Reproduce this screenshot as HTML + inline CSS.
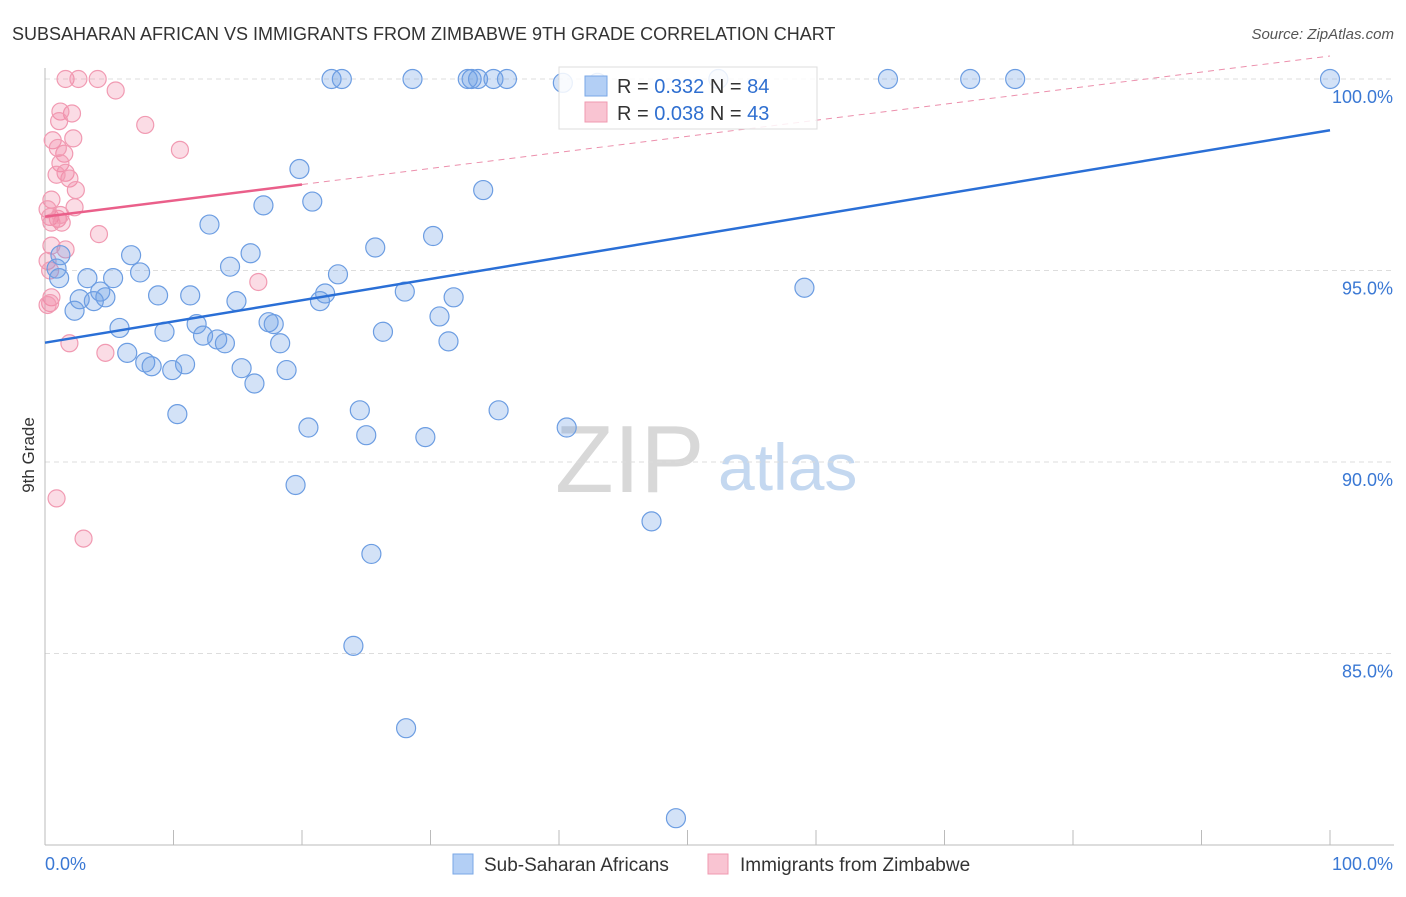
<!DOCTYPE html>
<html><head><meta charset="utf-8"><style>
body{margin:0;background:#fff;font-family:"Liberation Sans",sans-serif}
svg text{font-family:"Liberation Sans",sans-serif}
</style></head><body>
<svg id="chart" width="1406" height="892">
<text x="12" y="40" font-size="18" fill="#333">SUBSAHARAN AFRICAN VS IMMIGRANTS FROM ZIMBABWE 9TH GRADE CORRELATION CHART</text>
<text x="1394" y="39" font-size="15" fill="#555" text-anchor="end" font-style="italic">Source: ZipAtlas.com</text>
<text x="555" y="492" font-size="96" fill="#d8d8d8" font-family="Liberation Serif">ZIP</text>
<text x="718" y="490" font-size="66" fill="#c4d8f0">atlas</text>
<text transform="translate(34,455) rotate(-90)" font-size="17" fill="#333" text-anchor="middle">9th Grade</text>
<g id="grid"></g><g id="axes"></g><g id="pts"></g><g id="lines"></g>
<g>
<rect x="559" y="67" width="258" height="62" fill="#fff" fill-opacity="0.85" stroke="#ddd"/>
<rect x="585" y="76" width="22" height="20" fill="#b3cff5" stroke="#7aa7e6"/>
<text x="617" y="93" font-size="20" fill="#333">R = <tspan fill="#2f6fd0">0.332</tspan>   N = <tspan fill="#2f6fd0">84</tspan></text>
<rect x="585" y="102" width="22" height="20" fill="#f9c4d2" stroke="#f09ab0"/>
<text x="617" y="120" font-size="20" fill="#333">R = <tspan fill="#2f6fd0">0.038</tspan>   N = <tspan fill="#2f6fd0">43</tspan></text>
</g>
<g>
<rect x="453" y="854" width="20" height="20" fill="#b3cff5" stroke="#7aa7e6"/>
<text x="484" y="871" font-size="19" fill="#333">Sub-Saharan Africans</text>
<rect x="708" y="854" width="20" height="20" fill="#f9c4d2" stroke="#f09ab0"/>
<text x="740" y="871" font-size="19" fill="#333">Immigrants from Zimbabwe</text>
</g>
</svg>
<script>
const yTicks=[100,95,90,85];
const yTickLabels=["100.0%","95.0%","90.0%","85.0%"];
const blueX=[22.3,23.1,28.6,32.9,33.2,33.7,34.9,35.95,40.3,43.0,52.4,65.6,72.0,75.5,100,19.8,20.8,34.1,17.0,12.8,30.2,25.7,6.7,16.0,1.2,0.9,7.4,14.4,22.8,3.3,5.3,1.1,4.3,59.1,8.8,11.3,28.0,21.8,4.7,2.7,3.8,14.9,21.4,31.8,2.3,30.7,5.8,9.3,11.8,17.4,17.8,26.3,12.3,13.4,14.0,18.3,31.4,6.4,7.8,8.3,10.9,9.9,15.3,18.8,16.3,10.3,24.5,35.3,20.5,25.0,29.6,40.6,19.5,47.2,25.4,24.0,28.1,49.1];
const blueY=[100,100,100,100,100,100,100,100,99.9,99.9,100,100,100,100,100,97.65,96.8,97.1,96.7,96.2,95.9,95.6,95.4,95.45,95.4,95.05,94.95,95.1,94.9,94.8,94.8,94.8,94.45,94.55,94.35,94.35,94.45,94.4,94.3,94.25,94.2,94.2,94.2,94.3,93.95,93.8,93.5,93.4,93.6,93.65,93.6,93.4,93.3,93.2,93.1,93.1,93.15,92.85,92.6,92.5,92.55,92.4,92.45,92.4,92.05,91.25,91.35,91.35,90.9,90.7,90.65,90.9,89.4,88.45,87.6,85.2,83.05,80.7];
const pinkX=[1.6,2.6,4.1,5.5,7.8,10.5,2.2,0.6,1.5,1.0,2.1,1.2,1.1,1.2,1.6,1.9,0.9,2.4,2.3,0.5,0.2,0.4,1.0,1.3,0.5,1.2,4.2,1.6,0.5,0.2,0.4,16.6,0.5,0.4,0.2,1.9,4.7,0.9,3.0];
const pinkY=[100,100,100,99.7,98.8,98.15,98.45,98.4,98.05,98.2,99.1,99.15,98.9,97.8,97.55,97.4,97.5,97.1,96.65,96.85,96.6,96.4,96.35,96.25,96.25,96.45,95.95,95.55,95.65,95.25,95.0,94.7,94.3,94.15,94.1,93.1,92.85,89.05,88.0];
const NS="http://www.w3.org/2000/svg";
const X=v=>45+v*12.85, Y=v=>79+(100-v)*38.3;
function mk(t,a,p){const e=document.createElementNS(NS,t);for(const k in a)e.setAttribute(k,a[k]);p.appendChild(e);return e;}
const grid=document.getElementById('grid'),axes=document.getElementById('axes'),pts=document.getElementById('pts'),lines=document.getElementById('lines');
yTicks.forEach((t,i)=>{
 const l=mk('line',{x1:45,x2:1394,y1:Y(t),y2:Y(t),stroke:'#ddd','stroke-dasharray':'5,4'},grid);
 
 
 const tx=mk('text',{x:1393,y:Y(t)+24,'font-size':18,fill:'#3a78d4','text-anchor':'end'},grid);
 tx.textContent=yTickLabels[i];
 
 
});
mk('line',{x1:45,x2:45,y1:68,y2:845,stroke:'#bbb'},axes);
mk('line',{x1:45,x2:1394,y1:845,y2:845,stroke:'#bbb'},axes);
for(let i=0;i<=10;i++){const t=mk('line',{x1:X(i*10),x2:X(i*10),y1:830,y2:845,stroke:'#bbb'},axes);
 
 }
const xl=mk('text',{x:45,y:870,'font-size':18,fill:'#3a78d4'},axes);xl.textContent='0.0%';


const xr=mk('text',{x:1393,y:870,'font-size':18,fill:'#3a78d4','text-anchor':'end'},axes);xr.textContent='100.0%';


pinkX.forEach((x,i)=>{const c=mk('circle',{cx:X(x),cy:Y(pinkY[i]),r:8.5,fill:'rgba(240,130,160,0.28)',stroke:'#f19ab2','stroke-width':1.2},pts);
 
 });
blueX.forEach((x,i)=>{const c=mk('circle',{cx:X(x),cy:Y(blueY[i]),r:9.5,fill:'rgba(110,160,230,0.3)',stroke:'#6c9de2','stroke-width':1.2},pts);
 
 });
function reg(xs,ys){const n=xs.length;let mx=0,my=0;xs.forEach((x,i)=>{mx+=x;my+=ys[i];});mx/=n;my/=n;let sxy=0,sxx=0;xs.forEach((x,i)=>{sxy+=(x-mx)*(ys[i]-my);sxx+=(x-mx)**2;});const b=sxy/sxx;return [my-b*mx,b];}
const [ba,bb]=reg(blueX,blueY);
const bl=mk('line',{x1:X(0),y1:Y(ba),x2:X(100),y2:Y(ba+bb*100),stroke:'#2a6fd6','stroke-width':2.5},lines);


const [pa,pb]=reg(pinkX,pinkY);
const pmax=Math.max(...pinkX)+3.4;
const pl=mk('line',{x1:X(0),y1:Y(pa),x2:X(pmax),y2:Y(pa+pb*pmax),stroke:'#ea5f8a','stroke-width':2.5},lines);


const pd=mk('line',{x1:X(pmax),y1:Y(pa+pb*pmax),x2:X(100),y2:Y(pa+pb*100),stroke:'#ec8fac','stroke-width':1,'stroke-dasharray':'6,5'},lines);


</script>
</body></html>
